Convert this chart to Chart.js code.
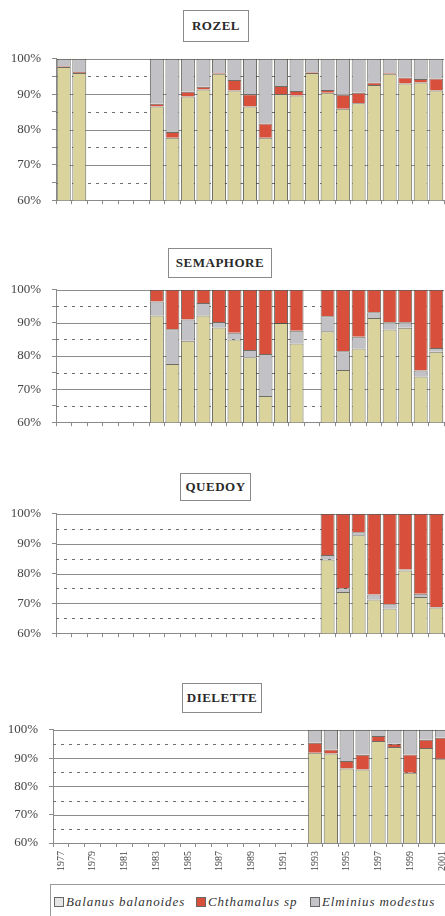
<!DOCTYPE html>
<html>
<head>
<meta charset="utf-8">
<script src="https://cdn.jsdelivr.net/npm/chart.js@4.4.1/dist/chart.umd.min.js"></script>
<style>
  html, body { margin: 0; padding: 0; background: #fff; overflow: hidden; }
  body { width: 445px; height: 916px; position: relative; }
  .wrap { position: absolute; left: 0; width: 445px; }
  .title {
    position: absolute; box-sizing: border-box;
    border: 1.5px solid #8a8a8a;
    display: flex; align-items: center; justify-content: center;
    font: bold 13px "Liberation Serif", "DejaVu Serif", serif;
    color: #2a2a2a; letter-spacing: 0.5px;
  }
  .legend {
    position: absolute; left: 50px; top: 884px; width: 400px; height: 40px;
    box-sizing: border-box; border: 1px solid #9a9a9a;
    font: italic 13px "Liberation Serif", serif; color: #333;
    letter-spacing: 0.9px; white-space: nowrap;
  }
  .legend .item { position: absolute; top: 9px; }
  .legend .box {
    display: inline-block; width: 8px; height: 8px; border: 1px solid #666;
    vertical-align: -1px; margin-right: 2px;
  }
</style>
</head>
<body>

<div class="title" style="left:183px;top:10px;width:66px;height:32px;">ROZEL</div>
<div class="title" style="left:168px;top:248px;width:104px;height:30px;">SEMAPHORE</div>
<div class="title" style="left:180px;top:473px;width:71px;height:28px;">QUEDOY</div>
<div class="title" style="left:182px;top:683px;width:80px;height:30px;">DIELETTE</div>

<div class="wrap" style="top:40px;height:179px;"><canvas id="c-rozel"></canvas></div>
<div class="wrap" style="top:271px;height:170px;"><canvas id="c-semaphore"></canvas></div>
<div class="wrap" style="top:495px;height:157px;"><canvas id="c-quedoy"></canvas></div>
<div class="wrap" style="top:711px;height:164px;width:458px;"><canvas id="c-dielette"></canvas></div>

<div class="legend">
  <span class="item" style="left:3px"><span class="box" style="background:#e6e6e6"></span>Balanus balanoides</span>
  <span class="item" style="left:145px"><span class="box" style="background:#d8503c"></span>Chthamalus sp</span>
  <span class="item" style="left:259px"><span class="box" style="background:#c4c4c8"></span>Elminius modestus</span>
</div>

<script>
const years = ['1977','1978','1979','1980','1981','1982','1983','1984','1985','1986','1987','1988','1989',
               '1990','1991','1992','1993','1994','1995','1996','1997','1998','1999','2000','2001'];
const yTicks = [60, 70, 80, 90, 100];
const gridValues = [65, 70, 75, 80, 85, 90, 95, 100];

// % of each species, per year (null = no survey)
const rozelBalanus    = [97.7, 96.0, null, null, null, null, 86.5, 77.7, 89.3, 91.3, 95.8, 91.0, 86.5, 77.7, 90.0, 89.6, 96.0, 90.4, 85.9, 87.4, 92.6, 95.8, 93.0, 93.3, 91.0];
const rozelChthamalus = [0.2, 0.3, null, null, null, null, 0.8, 1.6, 1.4, 0.8, 0.2, 3.0, 3.5, 4.0, 2.3, 1.3, 0.2, 0.8, 3.9, 3.0, 0.7, 0.2, 1.7, 1.0, 3.4];
const rozelElminius   = [2.1, 3.7, null, null, null, null, 12.7, 20.7, 9.3, 7.9, 4.0, 6.0, 10.0, 18.3, 7.7, 9.1, 3.8, 8.8, 10.2, 9.6, 6.7, 4.0, 5.3, 5.7, 5.6];

const semaBalanus     = [null, null, null, null, null, null, 92.2, 77.6, 84.6, 92.2, 88.6, 85.0, 79.6, 67.9, 90.0, 83.8, null, 87.5, 75.8, 82.3, 91.5, 88.0, 88.5, 73.8, 81.3];
const semaChthamalus  = [null, null, null, null, null, null, 3.5, 11.9, 9.0, 4.0, 9.7, 13.0, 18.2, 19.4, 10.0, 12.4, null, 8.0, 18.6, 14.2, 6.8, 9.8, 9.8, 24.4, 17.6];
const semaElminius    = [null, null, null, null, null, null, 4.3, 10.5, 6.4, 3.8, 1.7, 2.0, 2.2, 12.7, 0.0, 3.8, null, 4.5, 5.6, 3.5, 1.7, 2.2, 1.7, 1.8, 1.1];

const quedoyBalanus    = [null, null, null, null, null, null, null, null, null, null, null, null, null, null, null, null, null, 84.7, 73.8, 92.8, 71.3, 68.3, 81.0, 72.1, 68.6];
const quedoyChthamalus = [null, null, null, null, null, null, null, null, null, null, null, null, null, null, null, null, null, 13.8, 24.9, 6.2, 27.0, 30.3, 18.7, 26.8, 31.2];
const quedoyElminius   = [null, null, null, null, null, null, null, null, null, null, null, null, null, null, null, null, null, 1.5, 1.3, 1.0, 1.7, 1.4, 0.3, 1.1, 0.2];

const dielBalanus    = [null, null, null, null, null, null, null, null, null, null, null, null, null, null, null, null, 91.9, 91.6, 86.3, 86.0, 96.0, 93.9, 84.8, 93.6, 89.8];
const dielChthamalus = [null, null, null, null, null, null, null, null, null, null, null, null, null, null, null, null, 3.5, 1.4, 2.7, 5.2, 1.8, 1.2, 6.5, 2.9, 7.4];
const dielElminius   = [null, null, null, null, null, null, null, null, null, null, null, null, null, null, null, null, 4.6, 7.0, 11.0, 8.8, 2.2, 4.9, 8.7, 3.5, 2.8];

const COL_B = '#dad49c', COL_C = '#d8503c', COL_E = '#c2c2c6';
const SERIF = '"Liberation Serif", "DejaVu Serif", serif';

// solid lines every 10 %, dashed every 5 %, drawn under the bars
const gridLines = {
    id: 'gridLines',
    beforeDatasetsDraw(chart) {
        const ctx = chart.ctx, area = chart.chartArea, y = chart.scales.y;
        ctx.save();
        ctx.lineWidth = 1;
        gridValues.forEach(function(v) {
            const py = Math.round(y.getPixelForValue(v)) + 0.5;
            const solid = v % 10 === 0;
            ctx.strokeStyle = solid ? '#8c8c8c' : '#6e6e6e';
            ctx.setLineDash(solid ? [] : [3, 5]);
            ctx.beginPath();
            ctx.moveTo(area.left, py);
            ctx.lineTo(area.right, py);
            ctx.stroke();
        });
        ctx.restore();
    }
};

function ds(label, data, color) {
    return {
        label: label, data: data, backgroundColor: color,
        borderColor: 'rgba(60,60,50,0.75)', borderWidth: 1,
        barPercentage: 0.9, categoryPercentage: 1.0
    };
}

function makeChart(id, datasets, opts) {
    const ctx = document.getElementById(id);
    return new Chart(ctx, {
        type: 'bar',
        data: { labels: years, datasets: datasets },
        plugins: [gridLines],
        options: {
            responsive: true,
            maintainAspectRatio: false,
            animation: false,
            layout: { padding: { top: 10, right: 1, left: 0, bottom: 0 } },
            plugins: { legend: { display: false }, tooltip: { enabled: false } },
            scales: {
                x: {
                    stacked: true,
                    grid: { offset: true, drawOnChartArea: false, color: '#8a8a8a', tickLength: 4 },
                    border: { color: '#8a8a8a' },
                    ticks: {
                        display: opts.xLabels,
                        autoSkip: false, maxRotation: 90, minRotation: 90,
                        color: '#444', font: { family: SERIF, size: 10 }, padding: 4,
                        callback: function(v, i) { return i % 2 === 0 ? years[i] : ''; }
                    },
                    afterFit: function(s) { s.height = opts.xHeight; }
                },
                y: {
                    stacked: true, min: 60, max: 100,
                    afterBuildTicks: function(s) {
                        s.ticks = [];
                        for (let v = 60; v <= 100; v += 5) s.ticks.push({ value: v });
                    },
                    grid: { drawOnChartArea: false, color: '#8a8a8a', tickLength: 4 },
                    border: { color: '#8a8a8a' },
                    ticks: {
                        color: '#444', font: { family: SERIF, size: 13 }, padding: 11,
                        callback: function(v) { return yTicks.includes(v) ? v + '%' : ''; }
                    },
                    afterFit: function(s) { s.width = opts.yWidth; }
                }
            }
        }
    });
}

makeChart('c-rozel', [
    ds('Balanus balanoides', rozelBalanus, COL_B),
    ds('Chthamalus sp', rozelChthamalus, COL_C),
    ds('Elminius modestus', rozelElminius, COL_E)
], { xLabels: false, xHeight: 8, yWidth: 56 });

makeChart('c-semaphore', [
    ds('Balanus balanoides', semaBalanus, COL_B),
    ds('Elminius modestus', semaElminius, COL_E),
    ds('Chthamalus sp', semaChthamalus, COL_C)
], { xLabels: false, xHeight: 8, yWidth: 56 });

makeChart('c-quedoy', [
    ds('Balanus balanoides', quedoyBalanus, COL_B),
    ds('Elminius modestus', quedoyElminius, COL_E),
    ds('Chthamalus sp', quedoyChthamalus, COL_C)
], { xLabels: false, xHeight: 8, yWidth: 56 });

makeChart('c-dielette', [
    ds('Balanus balanoides', dielBalanus, COL_B),
    ds('Chthamalus sp', dielChthamalus, COL_C),
    ds('Elminius modestus', dielElminius, COL_E)
], { xLabels: true, xHeight: 32, yWidth: 53 });
</script>
</body>
</html>
